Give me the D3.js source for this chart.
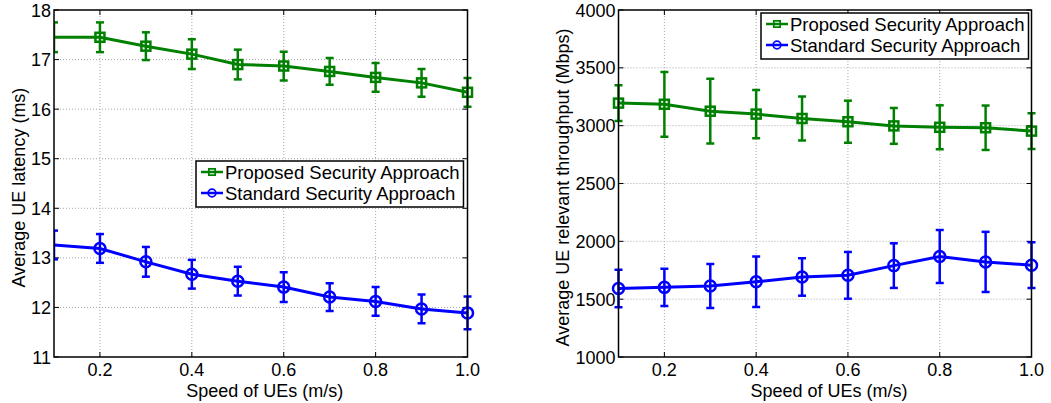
<!DOCTYPE html>
<html>
<head>
<meta charset="utf-8">
<script src="https://cdn.jsdelivr.net/npm/d3@7"></script>
<style>
  body { margin: 0; background: #fff; }
  svg { display: block; font-family: "Liberation Sans", Arial, Helvetica, sans-serif; }
  .grid line { stroke: #a8a8a8; stroke-width: 1; stroke-dasharray: 1,2; }
  .tick-label { font-size: 18px; fill: #000; }
  .axis-title { font-size: 18px; fill: #000; }
  .legend-text { font-size: 18.5px; fill: #000; }
</style>
</head>
<body>
<svg width="1051" height="403"></svg>
<script>
// speed of UEs (m/s)
var speed = [0.1, 0.2, 0.3, 0.4, 0.5, 0.6, 0.7, 0.8, 0.9, 1.0];
var xTicks = [0.2, 0.4, 0.6, 0.8, 1.0];

// left: average UE latency (ms)
var latProposed    = [17.45, 17.45, 17.27, 17.11, 16.90, 16.87, 16.76, 16.64, 16.53, 16.34];
var latProposedErr = [0.30, 0.30, 0.28, 0.30, 0.30, 0.29, 0.27, 0.29, 0.28, 0.29];
var latStandard    = [13.26, 13.19, 12.92, 12.67, 12.53, 12.41, 12.21, 12.12, 11.97, 11.89];
var latStandardErr = [0.29, 0.29, 0.30, 0.29, 0.29, 0.30, 0.28, 0.29, 0.29, 0.33];
var latTicks = [11, 12, 13, 14, 15, 16, 17, 18];

// right: average UE relevant throughput (Mbps)
var thrProposed    = [3195, 3185, 3125, 3100, 3062, 3034, 2998, 2986, 2982, 2953];
var thrProposedErr = [155, 280, 280, 208, 190, 182, 155, 190, 192, 155];
var thrStandard    = [1593, 1602, 1614, 1650, 1692, 1706, 1790, 1869, 1822, 1794];
var thrStandardErr = [162, 161, 190, 218, 162, 202, 193, 229, 260, 197];
var thrTicks = [1000, 1500, 2000, 2500, 3000, 3500, 4000];

var seriesNames = ["Proposed Security Approach", "Standard Security Approach"];
var green = "#008000", blue = "#0000ff";

var svg = d3.select("svg");

function drawPanel(cfg) {
    var x = d3.scaleLinear().domain([0.1, 1.0]).range([cfg.left, cfg.right]);
    var y = d3.scaleLinear().domain(cfg.yDomain).range([cfg.bottom, cfg.top]);
    var g = svg.append("g");

    // grid
    var grid = g.append("g").attr("class", "grid");
    grid.selectAll(".gx").data(xTicks.slice(0, -1)).enter().append("line")
        .attr("x1", function(d) { return x(d); }).attr("x2", function(d) { return x(d); })
        .attr("y1", cfg.top).attr("y2", cfg.bottom);
    grid.selectAll(".gy").data(cfg.yTicks.slice(1, -1)).enter().append("line")
        .attr("x1", cfg.left).attr("x2", cfg.right)
        .attr("y1", function(d) { return y(d); }).attr("y2", function(d) { return y(d); });

    // inner ticks on all four sides
    var tk = 5;
    var ticks = g.append("g").attr("stroke", "#000").attr("stroke-width", 1);
    xTicks.forEach(function(t) {
        ticks.append("line").attr("x1", x(t)).attr("x2", x(t)).attr("y1", cfg.bottom).attr("y2", cfg.bottom - tk);
        ticks.append("line").attr("x1", x(t)).attr("x2", x(t)).attr("y1", cfg.top).attr("y2", cfg.top + tk);
    });
    cfg.yTicks.forEach(function(t) {
        ticks.append("line").attr("x1", cfg.left).attr("x2", cfg.left + tk).attr("y1", y(t)).attr("y2", y(t));
        ticks.append("line").attr("x1", cfg.right).attr("x2", cfg.right - tk).attr("y1", y(t)).attr("y2", y(t));
    });

    // tick labels
    g.selectAll(".xl").data(xTicks).enter().append("text")
        .attr("class", "tick-label")
        .attr("x", function(d) { return x(d); })
        .attr("y", cfg.bottom + 19)
        .attr("text-anchor", "middle")
        .text(function(d) { return d.toFixed(1); });
    g.selectAll(".yl").data(cfg.yTicks).enter().append("text")
        .attr("class", "tick-label")
        .attr("x", cfg.left - 3)
        .attr("y", function(d) { return y(d) + 6.5; })
        .attr("text-anchor", "end")
        .text(function(d) { return d; });

    // axis titles
    g.append("text").attr("class", "axis-title")
        .attr("x", (cfg.left + cfg.right) / 2 + 4)
        .attr("y", cfg.bottom + 39.5)
        .attr("text-anchor", "middle")
        .text("Speed of UEs (m/s)");
    g.append("text").attr("class", "axis-title")
        .attr("transform", "translate(" + cfg.yTitleX + "," + ((cfg.top + cfg.bottom) / 2 + 4) + ") rotate(-90)")
        .attr("text-anchor", "middle")
        .text(cfg.yTitle);

    // series
    var line = d3.line().x(function(d) { return x(d.x); }).y(function(d) { return y(d.y); });
    var clipId = "clip" + cfg.id;
    g.append("clipPath").attr("id", clipId).append("rect")
        .attr("x", cfg.left - cfg.clipPad).attr("y", cfg.top - 10)
        .attr("width", cfg.right - cfg.left + cfg.clipPad + 10).attr("height", cfg.bottom - cfg.top + 20);

    cfg.series.forEach(function(s) {
        var pts = speed.map(function(v, i) { return { x: v, y: s.values[i], e: s.err[i], i: i }; });
        var sg = g.append("g").attr("clip-path", "url(#" + clipId + ")");
        sg.append("path").datum(pts)
            .attr("d", line).attr("fill", "none")
            .attr("stroke", s.color).attr("stroke-width", 3);
        var cap = 4;
        var eb = sg.selectAll(".eb").data(pts).enter().append("g")
            .attr("stroke", s.color).attr("stroke-width", 2.5);
        eb.append("line")
            .attr("x1", function(d) { return x(d.x); }).attr("x2", function(d) { return x(d.x); })
            .attr("y1", function(d) { return y(d.y + d.e); }).attr("y2", function(d) { return y(d.y - d.e); });
        eb.append("line")
            .attr("x1", function(d) { return x(d.x) - cap; }).attr("x2", function(d) { return x(d.x) + cap; })
            .attr("y1", function(d) { return y(d.y + d.e); }).attr("y2", function(d) { return y(d.y + d.e); });
        eb.append("line")
            .attr("x1", function(d) { return x(d.x) - cap; }).attr("x2", function(d) { return x(d.x) + cap; })
            .attr("y1", function(d) { return y(d.y - d.e); }).attr("y2", function(d) { return y(d.y - d.e); });

        var mpts = pts.filter(function(d) { return d.i >= cfg.firstMarker; });
        var mg = g.append("g");
        drawMarkers(mg, mpts.map(function(d) { return [x(d.x), y(d.y)]; }), s.marker, s.color);
    });

    // frame
    g.append("rect")
        .attr("x", cfg.left).attr("y", cfg.top)
        .attr("width", cfg.right - cfg.left).attr("height", cfg.bottom - cfg.top)
        .attr("fill", "none").attr("stroke", "#000").attr("stroke-width", 1.5);

    // legend
    var lg = g.append("g");
    var box = lg.append("rect").attr("fill", "#fff").attr("stroke", "#000").attr("stroke-width", 1.5);
    var maxW = 0;
    cfg.series.forEach(function(s, i) {
        var cy = cfg.legendY + 11 + i * 21;
        var lx = cfg.legendX + 5;
        lg.append("line").attr("x1", lx).attr("x2", lx + 22).attr("y1", cy).attr("y2", cy)
            .attr("stroke", s.color).attr("stroke-width", 2.5);
        drawMarkers(lg, [[lx + 11, cy]], s.marker, s.color, 0.7);
        var t = lg.append("text").attr("class", "legend-text")
            .attr("x", lx + 24).attr("y", cy + 6.5).text(s.name);
        maxW = Math.max(maxW, t.node().getComputedTextLength());
    });
    box.attr("x", cfg.legendX).attr("y", cfg.legendY)
        .attr("width", maxW + 33).attr("height", 46);
}

function drawMarkers(g, pts, type, color, scale) {
    scale = scale || 1;
    if (type == "square") {
        var s = 9 * scale;
        g.selectAll(null).data(pts).enter().append("rect")
            .attr("x", function(d) { return d[0] - s / 2; })
            .attr("y", function(d) { return d[1] - s / 2; })
            .attr("width", s).attr("height", s)
            .attr("fill", "none").attr("stroke", color).attr("stroke-width", 2.5 * scale);
    } else {
        g.selectAll(null).data(pts).enter().append("circle")
            .attr("cx", function(d) { return d[0]; })
            .attr("cy", function(d) { return d[1]; })
            .attr("r", 5.5 * scale)
            .attr("fill", "none").attr("stroke", color).attr("stroke-width", 2.5 * scale);
    }
}

drawPanel({
    id: "lat", left: 54, right: 467.5, top: 10, bottom: 357,
    yDomain: [11, 18], yTicks: latTicks, yTitle: "Average UE latency (ms)", yTitleX: 25,
    firstMarker: 1, clipPad: 0, legendX: 196, legendY: 161,
    series: [
        { name: seriesNames[0], values: latProposed, err: latProposedErr, color: green, marker: "square" },
        { name: seriesNames[1], values: latStandard, err: latStandardErr, color: blue, marker: "circle" }
    ]
});

drawPanel({
    id: "thr", left: 618.5, right: 1031.5, top: 10, bottom: 357,
    yDomain: [1000, 4000], yTicks: thrTicks, yTitle: "Average UE relevant throughput (Mbps)", yTitleX: 569,
    firstMarker: 0, clipPad: 10, legendX: 761, legendY: 13,
    series: [
        { name: seriesNames[0], values: thrProposed, err: thrProposedErr, color: green, marker: "square" },
        { name: seriesNames[1], values: thrStandard, err: thrStandardErr, color: blue, marker: "circle" }
    ]
});
</script>
</body>
</html>
